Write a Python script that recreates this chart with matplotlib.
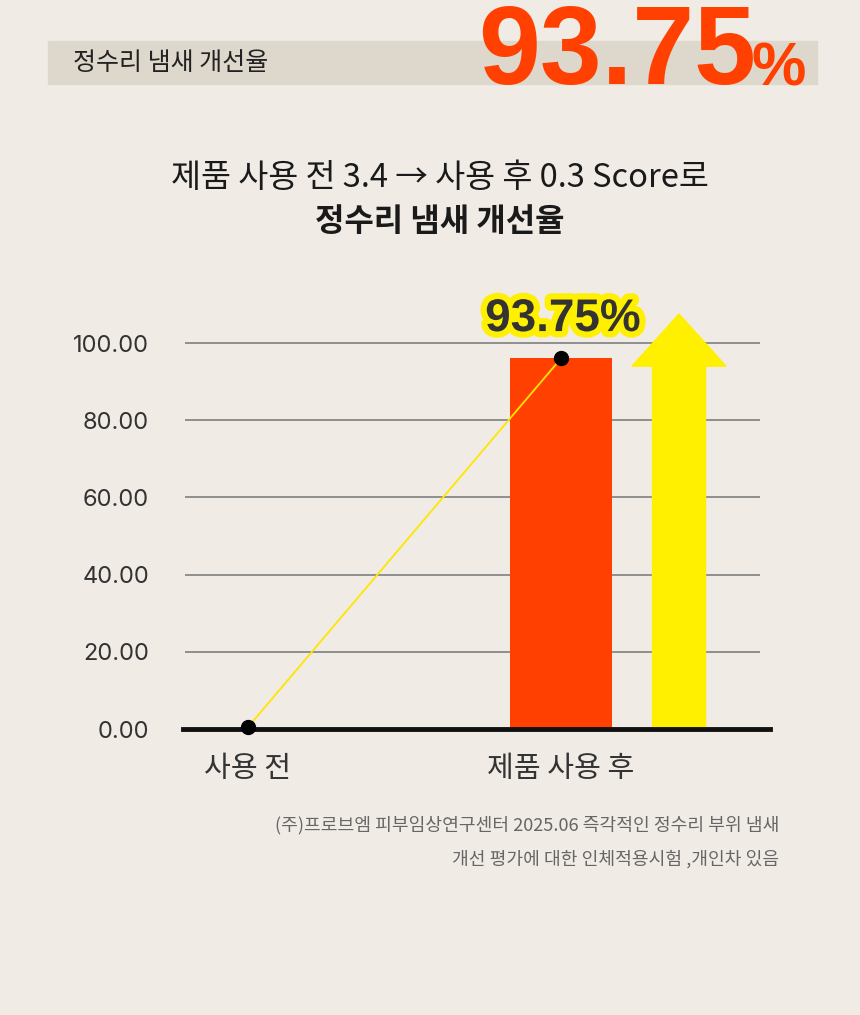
import matplotlib.pyplot as plt
import matplotlib.patheffects as pe
from matplotlib.patches import Polygon, Rectangle

plt.rcParams['font.family'] = ['Noto Sans CJK KR', 'DejaVu Sans']

# DATA
categories = ['사용 전', '제품 사용 후']
bar_values = [0, 96]
point_values = [0.5, 96]
y_ticks = [0, 20, 40, 60, 80, 100]
improvement_label = '93.75%'
arrow_tip = 107.5
arrow_head_base = 94

BG = '#f0ebe5'
ORANGE = '#ff4000'
YELLOW = '#fff000'
DARK = '#333333'

fig = plt.figure(figsize=(8.6, 10.15), dpi=100, facecolor=BG)

# header band
fig.patches.append(Rectangle((48 / 860, 1 - 84 / 1015), 769 / 860, 43 / 1015,
                             transform=fig.transFigure, color='#ded7cc', zorder=0))
fig.text(73 / 860, 1 - 63 / 1015, '정수리 냄새 개선율', fontsize=18, color='#222222',
         va='center', ha='left')
fig.text(478 / 860, 1 - 84 / 1015, '93.75', fontsize=80, fontweight='bold',
         family='Liberation Sans', color=ORANGE, ha='left', va='baseline')
fig.text(806 / 860, 1 - 86 / 1015, '%', fontsize=44, fontweight='bold',
         family='Liberation Sans', color=ORANGE, ha='right', va='baseline')

# title
fig.text(440 / 860, 1 - 178 / 1015, '제품 사용 전 3.4 → 사용 후 0.3 Score로', fontsize=23.5,
         color='#1a1a1a', ha='center', va='center')
fig.text(440 / 860, 1 - 222 / 1015, '정수리 냄새 개선율', fontsize=23, fontweight='bold',
         color='#1a1a1a', ha='center', va='center')

# chart
ax = fig.add_axes([185 / 860, 1 - 729 / 1015, 575 / 860, 110 * 3.86 / 1015])
ax.set_facecolor(BG)
x = [0, 1]
ax.set_xlim(-63 / 313, 1 + 199 / 313)
ax.set_ylim(0, 110)

ax.bar(x[1], bar_values[1], width=102 / 313, color=ORANGE, zorder=3)

# decorative arrow
ax_c = 1 + 118 / 313
sw = 53 / 313 / 2
hw = 94 / 313 / 2
ax.add_patch(Polygon([(ax_c - sw, 0.5), (ax_c + sw, 0.5), (ax_c + sw, arrow_head_base),
                      (ax_c + hw, arrow_head_base), (ax_c, arrow_tip),
                      (ax_c - hw, arrow_head_base), (ax_c - sw, arrow_head_base)],
                     closed=True, color=YELLOW, zorder=3, clip_on=False))

ax.plot(x, point_values, color='#ffe600', lw=1.3, zorder=4)
ax.plot(x, point_values, 'o', color='black', ms=10, zorder=5, clip_on=False)

ax.text(x[1] + 2 / 313, 100.5, improvement_label, fontsize=33, fontweight='bold',
        family='Liberation Sans', color=DARK, ha='center', va='bottom', zorder=6,
        path_effects=[pe.withStroke(linewidth=9, foreground=YELLOW)])

ax.set_yticks(y_ticks)
ax.set_yticklabels([f'{v:.2f}' for v in y_ticks], fontsize=17, color=DARK,
                   family=['Inter', 'DejaVu Sans'])
ax.tick_params(axis='y', length=0, pad=26)
ax.set_xticks(x)
ax.set_xticklabels(categories, fontsize=21, color=DARK)
ax.get_xticklabels()[1].set_x(1 + 6 / 313)
ax.tick_params(axis='x', length=0, pad=18)
for v in y_ticks[1:]:
    ax.axhline(v, color='#888888', lw=1.3, zorder=1)
ax.axhline(0, xmin=-2 / 575, xmax=1 + 10 / 575, color='#111111', lw=3.5, zorder=4,
           clip_on=False)
for s in ax.spines.values():
    s.set_visible(False)

# footnote
fig.text(779 / 860, 1 - 825 / 1015,
         '(주)프로브엠 피부임상연구센터 2025.06 즉각적인 정수리 부위 냄새',
         fontsize=13.1, color='#666666', ha='right', va='center')
fig.text(779 / 860, 1 - 859 / 1015, '개선 평가에 대한 인체적용시험 ,개인차 있음',
         fontsize=13.1, color='#666666', ha='right', va='center')

fig.savefig('out.png', dpi=100, facecolor=BG)
